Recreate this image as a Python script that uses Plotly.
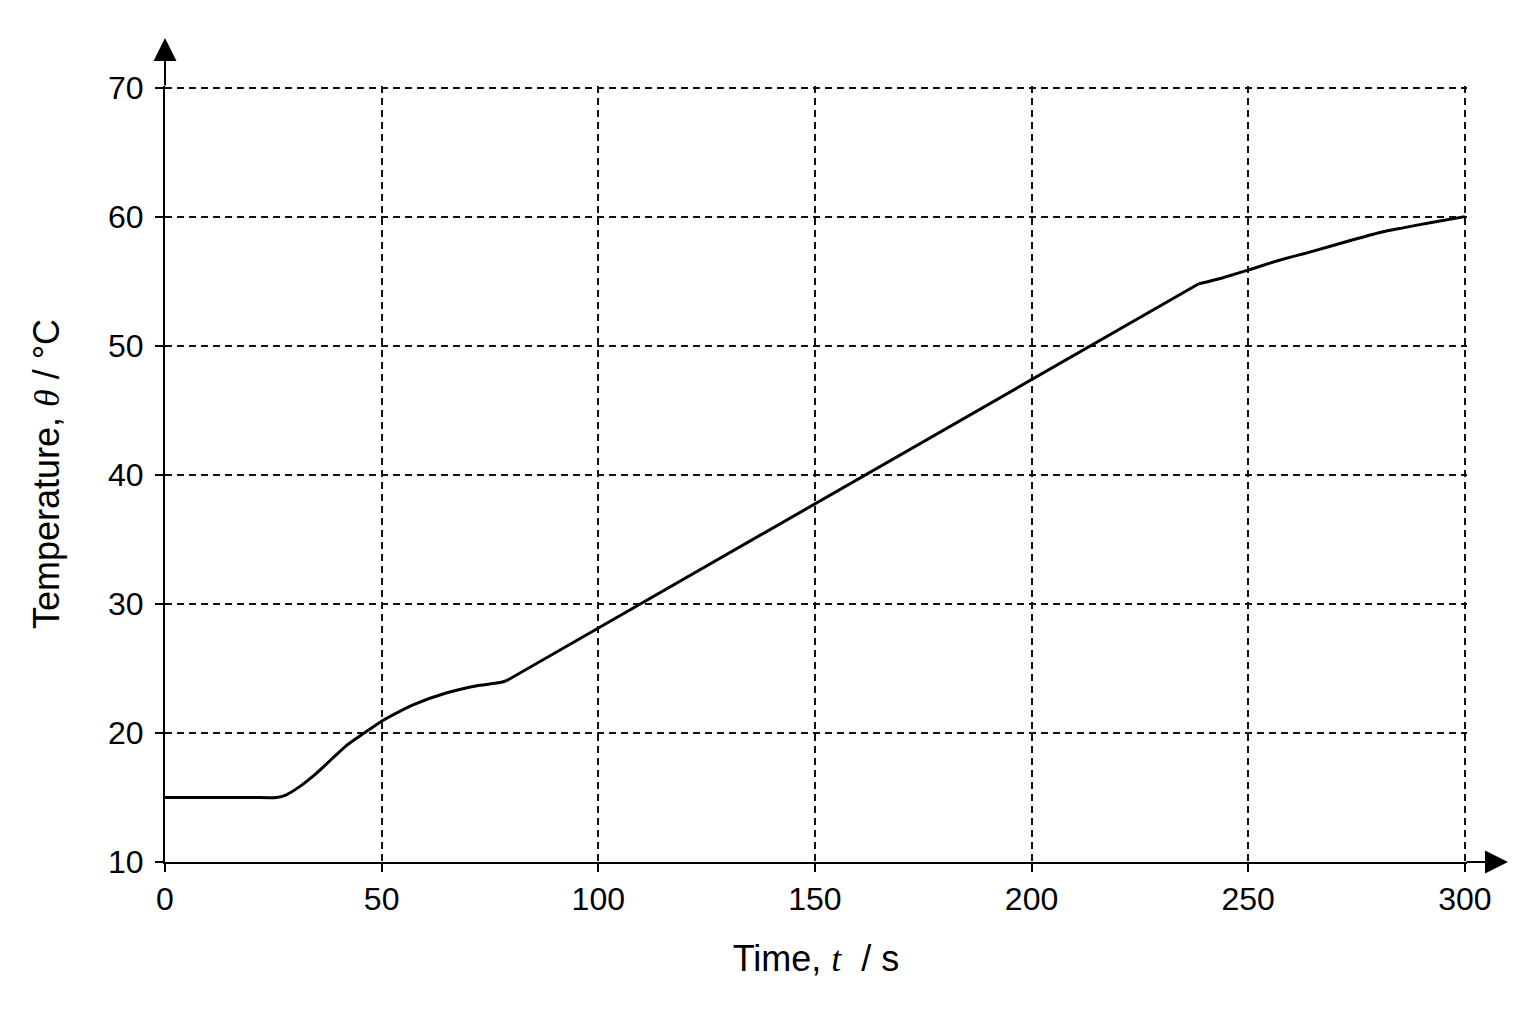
import plotly.graph_objects as go

################################################################################
# Data
################################################################################

# Warm-up part (curved)
warm_time_s = [0, 20.0, 25.7, 27.9, 30.9, 34.6, 38.3, 42.0, 45.8, 50.0, 52.5,
               57.1, 64.7, 72.3, 77.6, 78.8]
warm_temp_c = [15.0, 15.0, 15.0, 15.19, 15.80, 16.77, 17.92, 19.06, 19.95,
               20.91, 21.38, 22.16, 23.07, 23.67, 23.93, 24.04]

# Steady heating part (straight)
lin_time_s = [78.8, 238.6]
lin_temp_c = [24.04, 54.8]

# Final part (curved)
end_time_s = [238.6, 244.0, 250.0, 257.0, 264.6, 272.0, 280.4, 286.0, 292.3, 300.0]
end_temp_c = [54.8, 55.25, 55.86, 56.6, 57.29, 58.0, 58.77, 59.15, 59.55, 60.0]

# Tick values
x_ticks = [0, 50, 100, 150, 200, 250, 300]
y_ticks = [10, 20, 30, 40, 50, 60, 70]

################################################################################
# Build figure
################################################################################

font_family = 'Liberation Sans Narrow, Arial Narrow, Liberation Sans, Arial, sans-serif'

line_style = dict(color='#000000', width=3)

fig = go.Figure(
    data=[
        go.Scatter(x=warm_time_s, y=warm_temp_c, mode='lines',
                   line=dict(shape='spline', smoothing=0.6, **line_style),
                   showlegend=False),
        go.Scatter(x=lin_time_s, y=lin_temp_c, mode='lines',
                   line=line_style, showlegend=False),
        go.Scatter(x=end_time_s, y=end_temp_c, mode='lines',
                   line=dict(shape='spline', smoothing=0.8, **line_style),
                   showlegend=False),
    ]
)

axis_style = dict(
    showline=True, linecolor='#000000', linewidth=2,
    showgrid=True, gridcolor='#111111', gridwidth=1.5, griddash='7px,5px',
    zeroline=False,
    ticks='outside', ticklen=8, tickwidth=2, tickcolor='#000000',
    tickfont=dict(size=32, color='#000000'),
)

# Page adds about 8px of body margin, so the figure is a bit smaller
fig.update_layout(
    width=1528, height=1016,
    margin=dict(l=157, r=69, t=78, b=162, autoexpand=False),
    paper_bgcolor='#ffffff', plot_bgcolor='#ffffff',
    font=dict(family=font_family, size=30, color='#000000'),
    xaxis=dict(range=[0, 300.5], tickvals=x_ticks, **axis_style,
               title=dict(text="Time, <span style='font-family:Liberation Serif'><i>t</i></span>  / s",
                          standoff=29)),
    yaxis=dict(range=[10, 70.12], tickvals=y_ticks, ticklabelstandoff=5,
               **axis_style,
               title=dict(text="Temperature, <span style='font-family:Liberation Serif'><i>θ</i></span> / °C",
                          standoff=37)),
)

# Arrow heads extending the axes
fig.add_annotation(x=0, y=1.062, xref='paper', yref='paper', ax=0, ay=49,
                   text='', showarrow=True, arrowhead=2, arrowsize=2.3,
                   arrowwidth=2, arrowcolor='#000000')
fig.add_annotation(x=1.0315, y=0, xref='paper', yref='paper', ax=-43, ay=0,
                   text='', showarrow=True, arrowhead=2, arrowsize=2.3,
                   arrowwidth=2, arrowcolor='#000000')

fig.write_html('out.html')
